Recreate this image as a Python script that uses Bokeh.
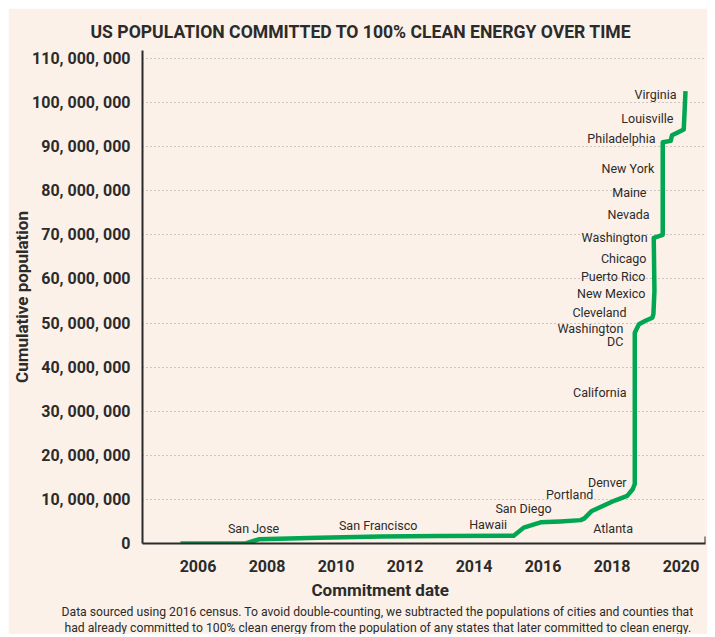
from bokeh.plotting import figure
from bokeh.models import Range1d, FixedTicker, ColumnDataSource, LabelSet, Title
from bokeh.core.properties import value
from bokeh.embed import file_html
from bokeh.resources import INLINE

# ---- data ----
commit_year = [2005.49, 2007.38, 2007.76, 2009.5, 2011.3, 2013.0, 2015.15, 2015.44, 2015.93,
               2016.5, 2017.09, 2017.2, 2017.4, 2017.95, 2018.1, 2018.44, 2018.6, 2018.66,
               2018.66, 2018.78, 2018.97, 2019.17, 2019.2, 2019.23, 2019.21, 2019.47,
               2019.47, 2019.7, 2019.74, 2020.08, 2020.13]
cumulative_pop = [0, 0, 0.95e6, 1.3e6, 1.6e6, 1.7e6, 1.75e6, 3.6e6, 4.8e6,
                  5.0e6, 5.3e6, 5.7e6, 7.3e6, 9.3e6, 9.8e6, 10.8e6, 12.3e6, 13.5e6,
                  47.8e6, 49.7e6, 50.5e6, 51.2e6, 52.0e6, 57.3e6, 69.3e6, 70.0e6,
                  91.0e6, 91.3e6, 92.6e6, 93.9e6, 102.6e6]

y_ticks = [0, 10e6, 20e6, 30e6, 40e6, 50e6, 60e6, 70e6, 80e6, 90e6, 100e6, 110e6]
y_tick_labels = ["0", "10, 000, 000", "20, 000, 000", "30, 000, 000", "40, 000, 000",
                 "50, 000, 000", "60, 000, 000", "70, 000, 000", "80, 000, 000",
                 "90, 000, 000", "100, 000, 000", "110, 000, 000"]
x_ticks = [2006, 2008, 2010, 2012, 2014, 2016, 2018, 2020]
x_tick_labels = ["2006", "2008", "2010", "2012", "2014", "2016", "2018", "2020"]

place_names = ["Virginia", "Louisville", "Philadelphia", "New York", "Maine", "Nevada",
               "Washington", "Chicago", "Puerto Rico", "New Mexico", "Cleveland",
               "Washington", "DC", "California", "Denver", "Portland", "San Diego",
               "Atlanta", "Hawaii", "San Francisco", "San Jose"]

# annotation anchor positions (layout, not data)
ann_x = [2019.87, 2019.78, 2019.26, 2019.23, 2019.0, 2019.09, 2019.03, 2019.0, 2018.97,
         2018.97, 2018.42, 2018.33, 2018.33, 2018.42, 2018.42, 2017.46, 2016.25,
         2018.03, 2014.41, 2011.22, 2007.61]
ann_y = [101.8e6, 96.4e6, 91.8e6, 85.0e6, 79.6e6, 74.6e6, 69.4e6, 64.6e6, 60.5e6,
         56.7e6, 52.4e6, 48.8e6, 45.9e6, 34.2e6, 13.8e6, 11.1e6, 7.9e6,
         3.4e6, 4.3e6, 4.1e6, 3.4e6]
ann_align = ["right"] * 17 + ["center"] * 4

TITLE = "US POPULATION COMMITTED TO 100% CLEAN ENERGY OVER TIME"
X_LABEL = "Commitment date"
NOTE_1 = ("Data sourced using 2016 census. To avoid double-counting, we subtracted the "
          "populations of cities and counties that")
NOTE_2 = ("had already committed to 100% clean energy from the population of any states "
          "that later committed to clean energy.")

BG = "#FCF1E8"
INK = "#2b2b2b"
GREEN = "#00A651"
FONT = "Roboto"

p = figure(width=699, height=626, output_backend="svg", toolbar_location=None,
           x_range=Range1d(2004.39, 2020.71), y_range=Range1d(0, 111.8e6),
           min_border_left=134, min_border_right=2, min_border_top=42, min_border_bottom=91,
           background_fill_color=BG, border_fill_color=BG, outline_line_color=None)
p.margin = (8, 0, 0, 8)

# axes
p.yaxis.ticker = FixedTicker(ticks=y_ticks)
p.yaxis.major_label_overrides = dict(zip(y_ticks, y_tick_labels))
p.xaxis.ticker = FixedTicker(ticks=x_ticks)
p.xaxis.major_label_overrides = dict(zip(x_ticks, x_tick_labels))
for ax in (p.xaxis[0], p.yaxis[0]):
    ax.axis_line_color = INK
    ax.axis_line_width = 2
    ax.major_tick_line_color = None
    ax.minor_tick_line_color = None
    ax.major_tick_out = 0
    ax.major_tick_in = 0
    ax.major_label_text_font = FONT
    ax.major_label_text_font_size = "16px"
    ax.major_label_text_font_style = "bold"
    ax.major_label_text_color = INK
p.yaxis.major_label_standoff = 12
p.xaxis.major_label_standoff = 16
p.yaxis.axis_label = "Cumulative population"
p.yaxis.axis_label_text_font = FONT
p.yaxis.axis_label_text_font_size = "17px"
p.yaxis.axis_label_text_font_style = "bold"
p.yaxis.axis_label_text_color = INK
p.yaxis.axis_label_standoff = -3

p.xgrid.visible = False
p.ygrid.grid_line_color = "#9a9a9a"
p.ygrid.grid_line_dash = "1 3"
p.ygrid.grid_line_width = 1

# the data line
p.line(commit_year, cumulative_pop, line_color=GREEN, line_width=4.5, line_join="round")

# small end tick on the x axis
p.segment(x0=[p.x_range.end], y0=[0], x1=[p.x_range.end], y1=[1.6e6],
          line_color=INK, line_width=2)

src = ColumnDataSource(dict(x=ann_x, y=ann_y, t=place_names, a=ann_align))
p.add_layout(LabelSet(x="x", y="y", text="t", source=src, text_align="a",
                      text_baseline="middle", text_font=value(FONT),
                      text_font_size="12.5px", text_color=INK))

# title, x-axis title, footnote
p.add_layout(Title(text=TITLE, align="left", offset=-52, standoff=18,
                   text_font=FONT, text_font_size="17.6px", text_font_style="bold",
                   text_color=INK), "above")
p.add_layout(Title(text=X_LABEL, align="left", offset=169, standoff=6,
                   text_font=FONT, text_font_size="17px", text_font_style="bold",
                   text_color=INK), "below")
p.add_layout(Title(text=NOTE_1, align="left", offset=-81, standoff=0,
                   text_font=FONT, text_font_size="12.2px", text_font_style="normal",
                   text_color=INK), "below")
p.add_layout(Title(text=NOTE_2, align="left", offset=-78, standoff=0,
                   text_font=FONT, text_font_size="12.2px", text_font_style="normal",
                   text_color=INK), "below")

open("out.html", "w").write(file_html(p, INLINE))
